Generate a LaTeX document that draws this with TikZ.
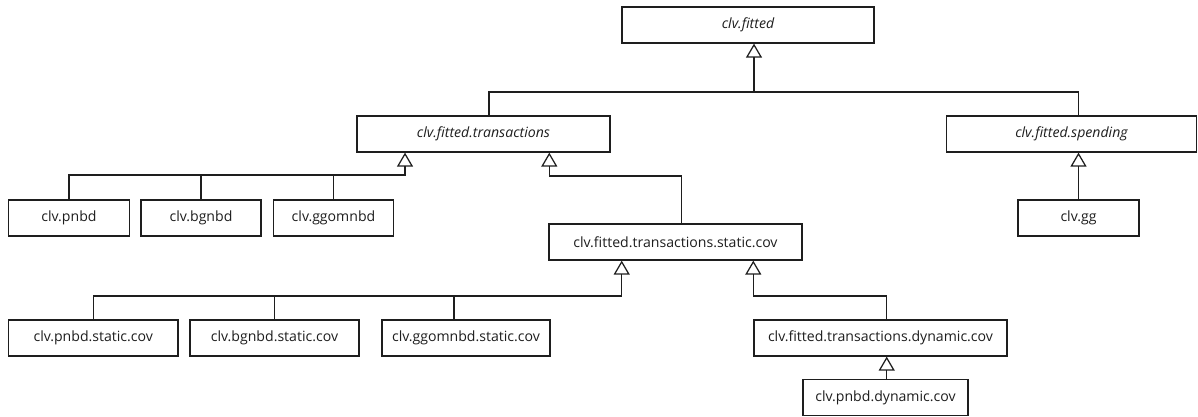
\documentclass[tikz,border=0pt]{standalone}
\usepackage{fontspec}
\setmainfont{Open Sans}
\usetikzlibrary{arrows.meta,calc}
\definecolor{ink}{HTML}{1E1E1E}
\tikzset{
  cls/.style={draw=ink,line width=1.25pt,fill=white,minimum height=36pt,inner sep=0pt,font=\fontsize{14.1}{17}\selectfont,text=ink},
  inh/.style={draw=ink,line width=1.25pt,-{Triangle[open,width=16pt,length=14pt,line width=1.25pt]}},
  ln/.style={draw=ink,line width=1.25pt}
}
\begin{document}
\begin{tikzpicture}[x=1pt,y=-1pt]
\useasboundingbox (0,0) rectangle (1198,417);
% nodes
\node[cls,minimum width=252pt] (fitted) at (748,25) {\itshape clv.fitted};
\node[cls,minimum width=253pt] (trans) at (483.5,134) {\itshape clv.fitted.transactions};
\node[cls,minimum width=250pt] (spend) at (1071.5,134) {\itshape clv.fitted.spending};
\node[cls,minimum width=121pt] (pnbd) at (69,218) {clv.pnbd};
\node[cls,minimum width=120pt] (bgnbd) at (201,218) {clv.bgnbd};
\node[cls,minimum width=120pt] (ggom) at (333.5,218) {clv.ggomnbd};
\node[cls,minimum width=121pt] (gg) at (1078.5,218) {clv.gg};
\node[cls,minimum width=253pt] (static) at (675.5,242) {clv.fitted.transactions.static.cov};
\node[cls,minimum width=169.5pt] (pnbds) at (93.25,338) {clv.pnbd.static.cov};
\node[cls,minimum width=169pt] (bgnbds) at (274.5,338) {clv.bgnbd.static.cov};
\node[cls,minimum width=168pt] (ggoms) at (466,338) {clv.ggomnbd.static.cov};
\node[cls,minimum width=253pt] (dyn) at (880.5,338) {clv.fitted.transactions.dynamic.cov};
\node[cls,minimum width=165pt] (pnbdd) at (885.5,397.5) {clv.pnbd.dynamic.cov};
% bus coordinates
\coordinate (b1) at (754,92);
\coordinate (b2) at (405,175);
\coordinate (b3) at (549.3,176);
\coordinate (b4) at (621.7,296);
\coordinate (b5) at (753.3,296);
% connectors
\draw[ln] ([xshift=7pt]spend.north) |- (b1);
\draw[inh] ([xshift=5.5pt]trans.north) |- (b1) -- ([xshift=6pt]fitted.south);
\draw[inh] (gg.north) -- (gg.north |- spend.south);
\draw[ln] (bgnbd.north) -- (bgnbd.north |- b2);
\draw[ln] (ggom.north) -- (ggom.north |- b2);
\draw[inh] (pnbd.north) |- (b2) -- ([xshift=-78.5pt]trans.south);
\draw[inh] ([xshift=6.2pt]static.north) |- (b3) -- ([xshift=65.8pt]trans.south);
\draw[ln] (bgnbds.north) -- (bgnbds.north |- b4);
\draw[ln] ([xshift=-12pt]ggoms.north) -- ([xshift=-12pt]ggoms.north |- b4);
\draw[inh] (pnbds.north) |- (b4) -- ([xshift=-53.8pt]static.south);
\draw[inh] ([xshift=6.2pt]dyn.north) |- (b5) -- ([xshift=77.8pt]static.south);
\draw[inh] ([xshift=1.2pt]pnbdd.north) -- ([xshift=6.2pt]dyn.south);
\end{tikzpicture}
\end{document}
